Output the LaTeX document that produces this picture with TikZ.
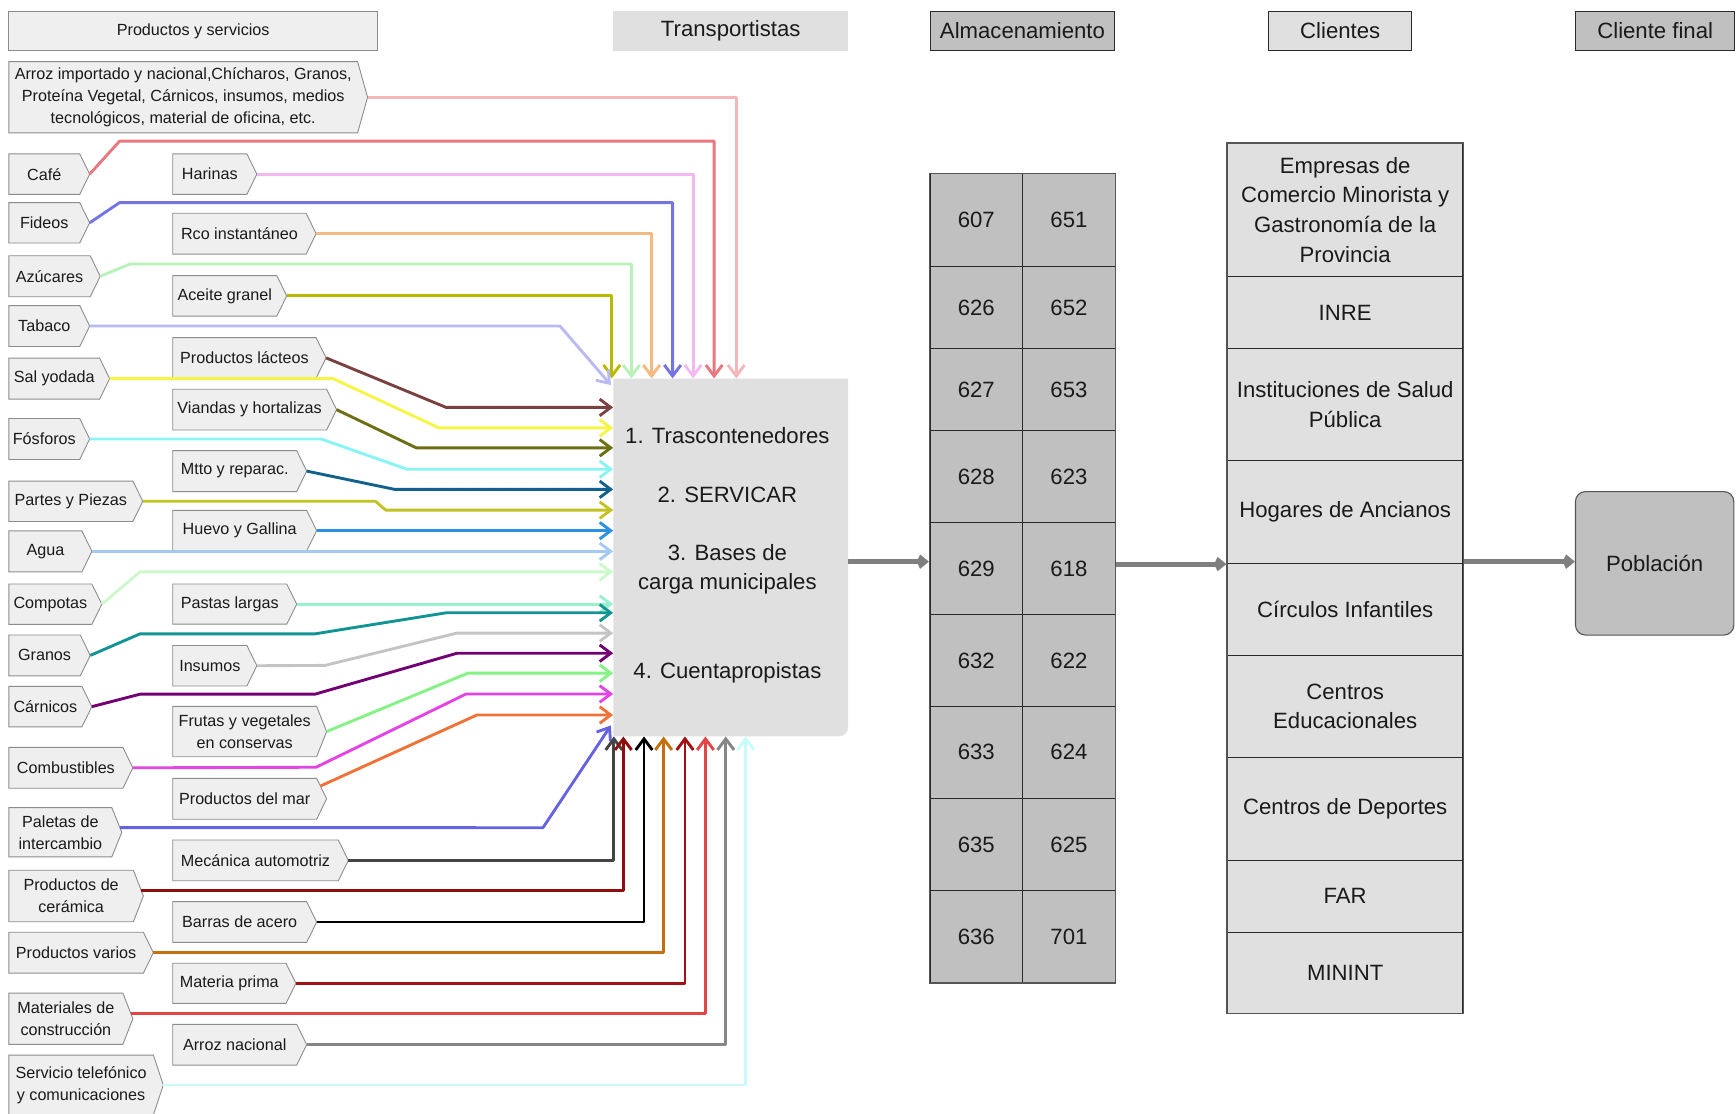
\documentclass[tikz,border=0pt]{standalone}
\usepackage{fontspec}
\setmainfont{Liberation Sans}
\usetikzlibrary{arrows.meta,calc,fit}

% box colours
\definecolor{tagfill}{HTML}{EFEFEF}
\definecolor{tagline}{HTML}{8C8C8C}
\definecolor{lightbox}{HTML}{E0E0E0}
\definecolor{darkbox}{HTML}{C0C0C0}
\definecolor{frame}{HTML}{2A2A2A}
\definecolor{conngray}{HTML}{7F7F7F}
\definecolor{ink}{HTML}{1A1A1A}
% flow colours, one per product
\definecolor{cArroz}{HTML}{F4B7B9}
\definecolor{cCafe}{HTML}{E8787E}
\definecolor{cHarinas}{HTML}{F2B8F0}
\definecolor{cFideos}{HTML}{7474E2}
\definecolor{cRco}{HTML}{F5BA82}
\definecolor{cAzucar}{HTML}{B8F2B8}
\definecolor{cAceite}{HTML}{B9B900}
\definecolor{cTabaco}{HTML}{BABAF2}
\definecolor{cLacteos}{HTML}{7B4040}
\definecolor{cSal}{HTML}{F5F545}
\definecolor{cViandas}{HTML}{6E6E14}
\definecolor{cFosforos}{HTML}{88F4F4}
\definecolor{cMtto}{HTML}{12608C}
\definecolor{cPartes}{HTML}{C2C222}
\definecolor{cHuevo}{HTML}{2A92E2}
\definecolor{cAgua}{HTML}{A4CAF2}
\definecolor{cCompotas}{HTML}{CCF8CC}
\definecolor{cPastas}{HTML}{96F2CC}
\definecolor{cGranos}{HTML}{129494}
\definecolor{cInsumos}{HTML}{C4C4C4}
\definecolor{cCarnicos}{HTML}{720072}
\definecolor{cFrutas}{HTML}{84F284}
\definecolor{cCombust}{HTML}{E444E4}
\definecolor{cMar}{HTML}{F07236}
\definecolor{cPaletas}{HTML}{6464E2}
\definecolor{cMecanica}{HTML}{444444}
\definecolor{cCeramica}{HTML}{8E0E0E}
\definecolor{cBarras}{HTML}{000000}
\definecolor{cVarios}{HTML}{C4700E}
\definecolor{cMateria}{HTML}{A31212}
\definecolor{cMateriales}{HTML}{E34444}
\definecolor{cArrozNac}{HTML}{868686}
\definecolor{cServicio}{HTML}{C8FCFC}

\newcommand\smallfont{\fontsize{14.6}{20}\selectfont}
\newcommand\bigfont{\fontsize{20}{26.7}\selectfont}

% product tag: name, left, top, body right, bottom, text
\newcommand\prodtag[6]{%
  \path[tagshape] (#2,#3) -- (#4,#3) -- ({#4+9},{(#3+#5)/2}) -- (#4,#5) -- (#2,#5) -- cycle;
  \node[tagtext, minimum width={(#4-#2)*1pt}, minimum height={(#5-#3)*1pt}] (#1) at ({(#2+#4)/2},{(#3+#5)/2}) {#6};
  \coordinate (#1-tip) at ({#4+9},{(#3+#5)/2});
}

\begin{document}
\begin{tikzpicture}[x=1pt,y=-1pt,
  tagshape/.style={fill=tagfill, draw=tagline, line width=0.8pt},
  tagtext/.style={inner sep=0pt, align=center, font=\smallfont, text=ink},
  header/.style={inner sep=0pt, font=\bigfont, text=ink},
  store/.style={draw=frame, fill=darkbox, line width=0.8pt, inner sep=0pt, minimum width=83.65pt, font=\bigfont, text=ink},
  client/.style={draw=frame, fill=lightbox, line width=0.8pt, inner sep=0pt, minimum width=212.6pt, align=center, font=\bigfont, text=ink},
  flow/.style={line width=2.6pt, line join=round, -{Straight Barb[length=10pt,width=15pt]}},
  conn/.style={draw=conngray, line width=4.5pt, -{Kite[length=11pt,width=13pt,inset=3pt]}},
  boxtext/.style={inner sep=0pt, align=center, font=\bigfont, text=ink}
]
\useasboundingbox (0,0) rectangle (1568,1006);
\fill[white] (0,0) rectangle (1568,1006);

% ---------- column headers ----------
\node[header, font=\smallfont, fill=tagfill, draw=tagline, line width=0.8pt, minimum width=333pt, minimum height=36pt] (hprod) at (174.5,28) {Productos y servicios};
\node[header, fill=lightbox, minimum width=212pt, minimum height=36pt] (htrans) at (660,28) {Transportistas};
\node[header, fill=darkbox, draw=frame, line width=0.9pt, minimum width=167pt, minimum height=36pt] (halm) at (923.5,28) {Almacenamiento};
\node[header, fill=lightbox, draw=frame, line width=0.9pt, minimum width=129pt, minimum height=36pt] (hcli) at (1210.5,28) {Clientes};
\node[header, fill=darkbox, draw=frame, line width=0.9pt, minimum width=144pt, minimum height=36pt] (hfin) at (1495,28) {Cliente final};

% ---------- carriers ----------
\fill[lightbox] (554,342) -- (766,342) -- (766,657) arc[start angle=0, end angle=90, radius=8] -- (554,665) -- cycle;
\node[inner sep=0pt, minimum width=212pt, minimum height=323pt] (trans) at (660,503.5) {};
\node[boxtext] (tr1) at (657,393) {1. Trascontenedores};
\node[boxtext] (tr2) at (657,447) {2. SERVICAR};
\node[boxtext] (tr3) at (657,514) {3. Bases de\\carga municipales};
\node[boxtext] (tr4) at (657,608) {4. Cuentapropistas};

% ---------- products, first column ----------
\prodtag{arrozimp}{8}{55.7}{323}{120}{Arroz importado y nacional,Chícharos, Granos,\\Proteína Vegetal, Cárnicos, insumos, medios\\tecnológicos, material de oficina, etc.}
\prodtag{cafe}{8}{139}{72}{175.6}{Café}
\prodtag{fideos}{8}{183}{72}{219.5}{Fideos}
\prodtag{azucar}{8}{231}{81.5}{268}{Azúcares}
\prodtag{tabaco}{8}{276}{72}{313}{Tabaco}
\prodtag{sal}{8}{323.5}{90}{360.5}{Sal yodada}
\prodtag{fosforos}{8}{378}{72}{415}{Fósforos}
\prodtag{partes}{8}{434.5}{120}{471}{Partes y Piezas}
\prodtag{agua}{8}{479.5}{74}{516.5}{Agua}
\prodtag{compotas}{8}{527.5}{83}{564}{Compotas}
\prodtag{granos}{8}{573.5}{72.5}{610.5}{Granos}
\prodtag{carnicos}{8}{620}{74}{656.5}{Cárnicos}
\prodtag{combust}{8}{675}{111}{712}{Combustibles}
\prodtag{paletas}{8}{729.5}{101}{774}{Paletas de\\intercambio}
\prodtag{ceramica}{8}{786}{120.5}{832.5}{Productos de\\cerámica}
\prodtag{varios}{8}{842}{129.5}{879}{Productos varios}
\prodtag{materiales}{8}{897}{111}{943.3}{Materiales de\\construcción}
\prodtag{servicio}{8}{953}{138.5}{1007}{Servicio telefónico\\y comunicaciones}

% ---------- products, second column ----------
\prodtag{harinas}{156}{139}{223}{175.6}{Harinas}
\prodtag{rco}{156}{192.6}{276.5}{229.5}{Rco instantáneo}
\prodtag{aceite}{156}{249}{250}{285.5}{Aceite granel}
\prodtag{lacteos}{156}{305}{285.5}{341.5}{Productos lácteos}
\prodtag{viandas}{156}{351.6}{295}{388.4}{Viandas y hortalizas}
\prodtag{mtto}{156}{407}{268}{444}{Mtto y reparac.}
\prodtag{huevo}{156}{461}{277}{497.6}{Huevo y Gallina}
\prodtag{pastas}{156}{527.5}{259}{563.7}{Pastas largas}
\prodtag{insumos}{156}{583}{223}{619.6}{Insumos}
\prodtag{frutas}{156}{638}{286}{683.5}{Frutas y vegetales\\en conservas}
\prodtag{mar}{156}{703}{286}{740}{Productos del mar}
\prodtag{mecanica}{156}{758.7}{305.6}{795.5}{Mecánica automotriz}
\prodtag{barras}{156}{814.4}{277}{851.2}{Barras de acero}
\prodtag{materia}{156}{870}{258.3}{906.3}{Materia prima}
\prodtag{arroznac}{156}{925.2}{268}{962}{Arroz nacional}

% line starts on the upper slant of two-line tags
\coordinate (paletas-start) at ($(paletas-tip)!0.19!(paletas.north east)$);
\coordinate (ceramica-start) at ($(ceramica-tip)!0.22!(ceramica.north east)$);
\coordinate (materiales-start) at ($(materiales-tip)!0.2!(materiales.north east)$);
\coordinate (mar-start) at ($(mar-tip)!0.62!(mar.north east)$);

% ---------- flows entering from above ----------
\draw[flow, cArroz] (arrozimp-tip) -| (trans.north -| 665,0);
\draw[flow, cCafe] (cafe-tip) -- (108,127.5) -| (trans.north -| 645,0);
\draw[flow, cHarinas] (harinas-tip) -| (trans.north -| 626,0);
\draw[flow, cFideos] (fideos-tip) -- (108,183) -| (trans.north -| 607.5,0);
\draw[flow, cRco] (rco-tip) -| (trans.north -| 588.5,0);
\draw[flow, cAzucar] (azucar-tip) -- (117.5,238.5) -| (trans.north -| 570.3,0);
\draw[flow, cAceite] (aceite-tip) -| (trans.north -| 552.6,0);
\draw[flow, cTabaco] (tabaco-tip) -- (505.8,294.5) -- ([shift={(-2,6)}]trans.north west);

% ---------- flows entering from the left ----------
\draw[flow, cLacteos] (lacteos-tip) -- (403,368) -- (trans.west |- 0,368);
\draw[flow, cSal] (sal-tip) -- (301,342) -- (396.5,386.5) -- (trans.west |- 0,386.5);
\draw[flow, cViandas] (viandas-tip) -- (376,404.5) -- (trans.west |- 0,404.5);
\draw[flow, cFosforos] (fosforos-tip) -- (290,396.5) -- (367.6,423.8) -- (trans.west |- 0,423.8);
\draw[flow, cMtto] (mtto-tip) -- (356.4,442) -- (trans.west |- 0,442);
\draw[flow, cPartes] (partes-tip) -- (339,452.7) -- (348.4,460.7) -- (trans.west |- 0,460.7);
\draw[flow, cHuevo] (huevo-tip) -- (trans.west |- huevo-tip);
\draw[flow, cAgua] (agua-tip) -- (trans.west |- agua-tip);
\draw[flow, cCompotas] (compotas-tip) -- (126.5,516.5) -- (trans.west |- 0,516.5);
\draw[flow, cPastas] (pastas-tip) -- (trans.west |- pastas-tip);
\draw[flow, cGranos] (granos-tip) -- (126.5,572.5) -- (284.5,572.5) -- (403,553.5) -- (trans.west |- 0,553.5);
\draw[flow, cInsumos] (insumos-tip) -- (293.6,601) -- (412.8,571.8) -- (trans.west |- 0,571.8);
\draw[flow, cCarnicos] (carnicos-tip) -- (126.5,627) -- (284.5,627) -- (412.8,590) -- (trans.west |- 0,590);
\draw[flow, cFrutas] (frutas-tip) -- (422.6,608) -- (trans.west |- 0,608);
\draw[flow, cCombust] (combust-tip) -- (285.5,693) -- (421,626.8) -- (trans.west |- 0,626.8);
\draw[flow, cMar] (mar-start) -- (430.7,645.8) -- (trans.west |- 0,645.8);
\draw[flow, cPaletas] (paletas-start) -- (490.4,747.6) -- ([shift={(-2,-10)}]trans.south west);

% ---------- flows entering from below ----------
\draw[flow, cMecanica] (mecanica-tip) -| (trans.south -| 554.5,0);
\draw[flow, cCeramica] (ceramica-start) -| (trans.south -| 563,0);
\draw[flow, cBarras] (barras-tip) -| (trans.south -| 581.7,0);
\draw[flow, cVarios] (varios-tip) -| (trans.south -| 599.4,0);
\draw[flow, cMateria] (materia-tip) -| (trans.south -| 618.7,0);
\draw[flow, cMateriales] (materiales-start) -| (trans.south -| 637.2,0);
\draw[flow, cArrozNac] (arroznac-tip) -| (trans.south -| 655.5,0);
\draw[flow, cServicio] (servicio-tip) -| (trans.south -| 673.6,0);

% ---------- storage units ----------
\foreach \ta/\tb/\l/\r in {157/241/607/651, 241/315/626/652, 315/389/627/653, 389/472/628/623, 472/555/629/618, 555/638/632/622, 638/721/633/624, 721/804.5/635/625, 804.5/887.6/636/701}{
  \node[store, minimum height={(\tb-\ta)*1pt}] (s\l) at (881.85,{(\ta+\tb)/2}) {\l};
  \node[store, minimum height={(\tb-\ta)*1pt}] (s\r) at (965.5,{(\ta+\tb)/2}) {\r};
}
\node[fit=(s607)(s701), inner sep=0pt, draw=frame!80, line width=1.2pt] (alm) {};

% ---------- clients ----------
\node[client, minimum height=120pt] (cl1) at (1215,189.5) {Empresas de\\Comercio Minorista y\\Gastronomía de la\\Provincia};
\node[client, minimum height=65.5pt] (cl2) at (1215,282.25) {INRE};
\node[client, minimum height=101pt] (cl3) at (1215,365.5) {Instituciones de Salud\\Pública};
\node[client, minimum height=92.8pt] (cl4) at (1215,462.4) {Hogares de Ancianos};
\node[client, minimum height=83.4pt] (cl5) at (1215,550.5) {Círculos Infantiles};
\node[client, minimum height=91.8pt] (cl6) at (1215,638.1) {Centros\\Educacionales};
\node[client, minimum height=92.8pt] (cl7) at (1215,730.4) {Centros de Deportes};
\node[client, minimum height=65pt] (cl8) at (1215,809.3) {FAR};
\node[client, minimum height=73.5pt] (cl9) at (1215,878.55) {MININT};
\node[fit=(cl1)(cl9), inner sep=0pt, draw=frame!80, line width=1.2pt] (cli) {};

% ---------- end customer ----------
\node[draw=frame!80, fill=darkbox, rounded corners=9pt, line width=1pt, inner sep=0pt, minimum width=143pt, minimum height=129.6pt, font=\bigfont, text=ink] (pob) at (1494.5,508.8) {Población};

% ---------- main chain ----------
\draw[conn] (trans.east |- 0,507.3) -- (alm.west |- 0,507.3);
\draw[conn] (alm.east |- 0,509.5) -- (cli.west |- 0,509.5);
\draw[conn] (cli.east |- 0,507.3) -- (pob.west |- 0,507.3);
\end{tikzpicture}
\end{document}
